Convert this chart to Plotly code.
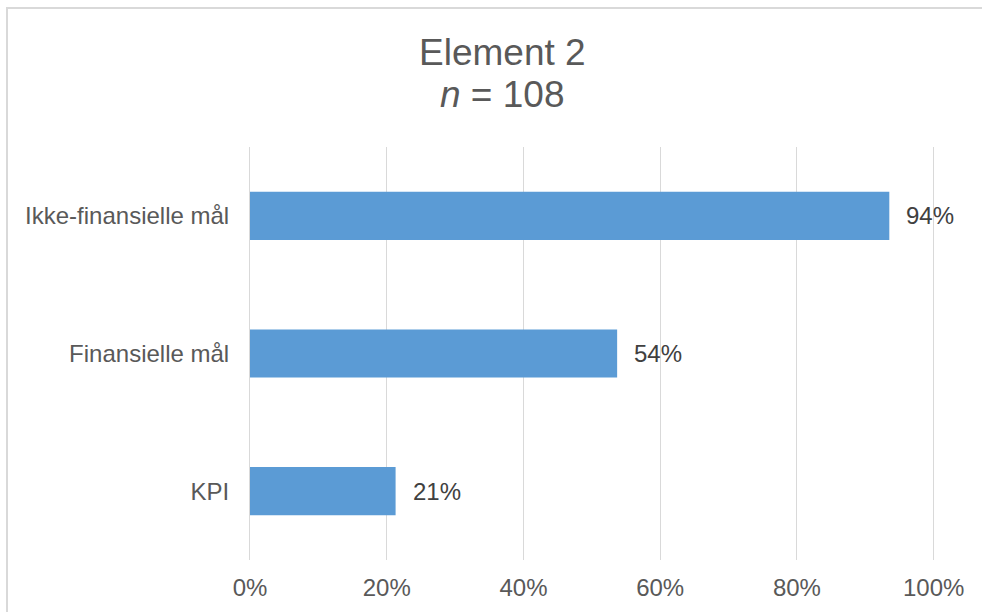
import plotly.graph_objects as go

# Share of respondents (n = 108) reporting each element
categories = ["KPI", "Finansielle mål", "Ikke-finansielle mål"]
counts = [23, 58, 101]
n_total = 108
shares = [c / n_total for c in counts]
tick_values = [0, 0.2, 0.4, 0.6, 0.8, 1.0]
tick_labels = ["0%", "20%", "40%", "60%", "80%", "100%"]
title_lines = ["Element 2", "<i>n</i> = 108"]

BAR_COLOR = "#5B9BD5"
GRID_COLOR = "#D9D9D9"
TEXT_COLOR = "#595959"
LABEL_COLOR = "#404040"
FONT = "Liberation Sans, Arial, sans-serif"

W, H = 984, 614
L, R, T, B = 250, 49, 147, 54
plot_w = W - L - R
plot_h = H - T - B


def px_to_paper_x(px):
    return (px - L) / plot_w


def px_to_paper_y(py):
    return (H - B - py) / plot_h


fig = go.Figure()
fig.add_trace(
    go.Bar(
        x=shares,
        y=categories,
        orientation="h",
        marker=dict(color=BAR_COLOR, line=dict(width=0)),
        width=0.35,
        hoverinfo="skip",
    )
)

# value labels to the right of each bar
for cat, v in zip(categories, shares):
    fig.add_annotation(
        x=v, y=cat, xref="x", yref="y",
        text=f"{v:.0%}",
        showarrow=False,
        xanchor="left", yanchor="middle",
        xshift=15,
        font=dict(family=FONT, size=24, color=LABEL_COLOR),
    )

# chart title, two lines
for line, ypx in zip(title_lines, [52, 94]):
    fig.add_annotation(
        x=px_to_paper_x(502), y=px_to_paper_y(ypx),
        xref="paper", yref="paper",
        text=line,
        showarrow=False,
        xanchor="center", yanchor="middle",
        font=dict(family=FONT, size=37, color=TEXT_COLOR),
    )

# chart-area border: top and left edges only
fig.add_shape(
    type="path", xref="paper", yref="paper",
    path=(f"M {px_to_paper_x(7)},{px_to_paper_y(612)} "
          f"L {px_to_paper_x(7)},{px_to_paper_y(8)} "
          f"L {px_to_paper_x(982)},{px_to_paper_y(8)}"),
    line=dict(color=GRID_COLOR, width=2),
    layer="below",
)

fig.update_layout(
    width=W, height=H,
    margin=dict(l=L, r=R, t=T, b=B, pad=0),
    paper_bgcolor="white",
    plot_bgcolor="white",
    showlegend=False,
    bargap=0.65,
    font=dict(family=FONT, color=TEXT_COLOR),
    xaxis=dict(
        range=[0, 1.002],
        tickvals=tick_values,
        ticktext=tick_labels,
        showgrid=True,
        gridcolor=GRID_COLOR,
        gridwidth=1,
        zeroline=False,
        showline=False,
        ticks="",
        ticklabelstandoff=11,
        tickfont=dict(family=FONT, size=24, color=TEXT_COLOR),
        fixedrange=True,
    ),
    yaxis=dict(
        categoryorder="array",
        categoryarray=categories,
        showgrid=False,
        zeroline=False,
        showline=True,
        linecolor=GRID_COLOR,
        linewidth=1,
        ticks="",
        ticklabelstandoff=15,
        tickfont=dict(family=FONT, size=24, color=TEXT_COLOR),
        fixedrange=True,
    ),
)

fig.write_html("out.html")
